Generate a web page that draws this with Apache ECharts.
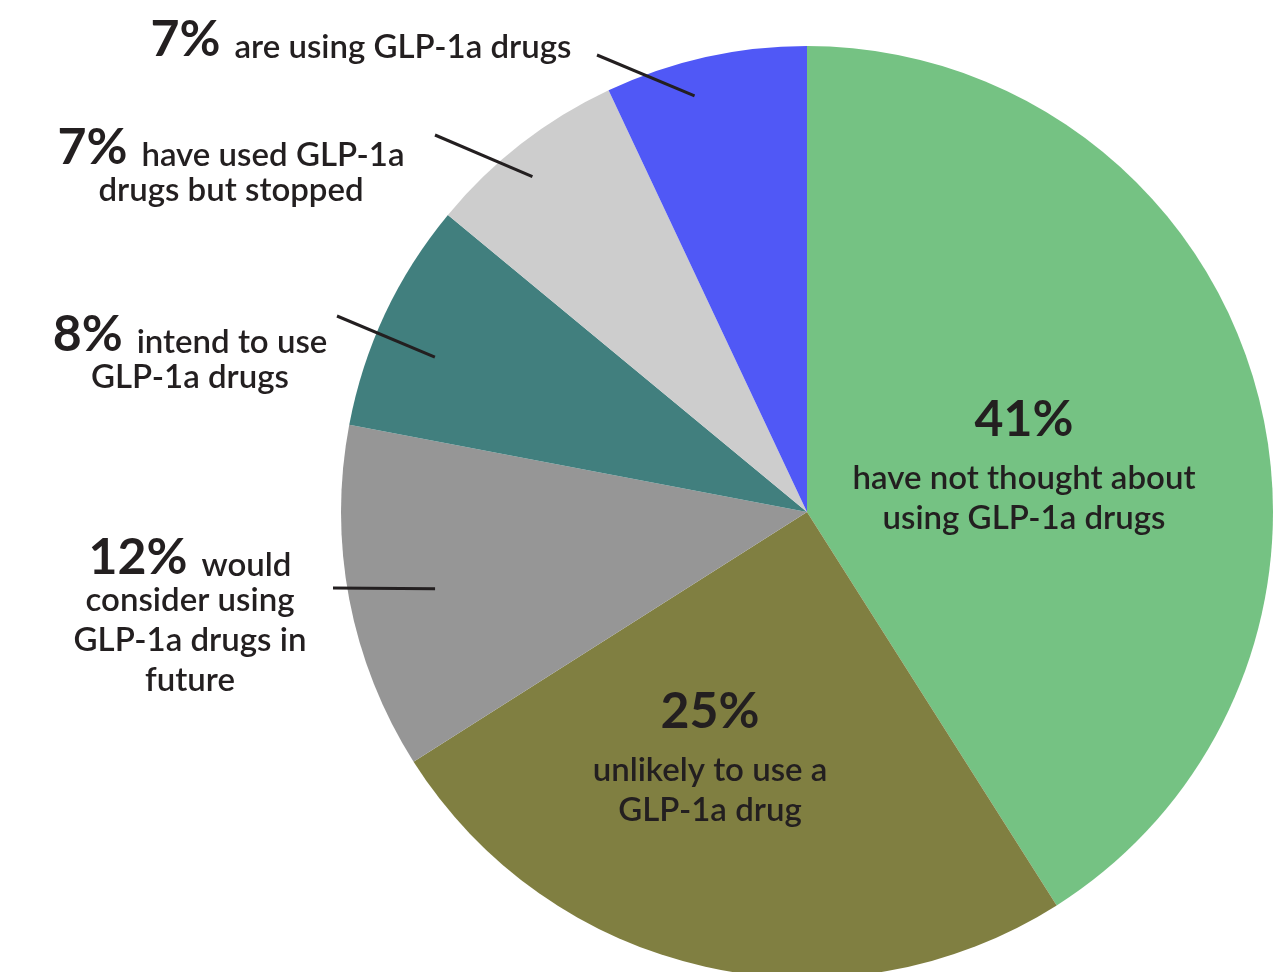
<!DOCTYPE html>
<html>
<head>
<meta charset="utf-8">
<title>GLP-1a drug use</title>
<script src="https://cdn.jsdelivr.net/npm/echarts@6/dist/echarts.min.js"></script>
<style>
  html, body { margin: 0; padding: 0; background: #ffffff; }
  #chart { width: 1288px; height: 972px; }
</style>
</head>
<body>
<div id="chart"></div>
<script>
// Survey answers, clockwise from 12 o'clock
const categories = [
  'have not thought about using GLP-1a drugs',
  'unlikely to use a GLP-1a drug',
  'would consider using GLP-1a drugs in future',
  'intend to use GLP-1a drugs',
  'have used GLP-1a drugs but stopped',
  'are using GLP-1a drugs'
];
const shares = [41, 25, 12, 8, 7, 7];
// How each answer's wording is broken over lines in its label
const labelLines = [
  ['have not thought about', 'using GLP-1a drugs'],
  ['unlikely to use a', 'GLP-1a drug'],
  ['would', 'consider using', 'GLP-1a drugs in', 'future'],
  ['intend to use', 'GLP-1a drugs'],
  ['have used GLP-1a', 'drugs but stopped'],
  ['are using GLP-1a drugs']
];
const colors = ['#75c283', '#807f41', '#969696', '#417f7e', '#cdcdcd', '#5058f6'];

// Pie geometry
const PIE_CX = 807, PIE_CY = 512, PIE_R = 466;
const INK = '#231f20';
const FONT = 'Lato';

// Label placement: inside labels sit on the slice; outside labels sit to the
// left with a leader line that runs into the slice (anchor = fraction across
// the slice's sweep and fraction of the radius).
const placement = [
  { inside: true, x: 1024, y: 460 },
  { inside: true, x: 710, y: 752 },
  { x: 190, y: 618, lineStart: [333, 588], anchor: { t: 0.48, r: 0.815 } },
  { x: 190, y: 355, lineStart: [337, 316], anchor: { t: 0.41, r: 0.865 } },
  { x: 231, y: 168, lineStart: [435, 135], anchor: { t: 0.44, r: 0.93 } },
  { x: 361, y: 40, lineStart: [597, 55], anchor: { t: 0.40, r: 0.925 } }
];

const total = shares.reduce((a, b) => a + b, 0);
function slicePoint(i, t, rFrac) {
  let before = 0;
  for (let k = 0; k < i; k++) before += shares[k];
  const ang = (before + shares[i] * t) / total * Math.PI * 2;
  return [PIE_CX + PIE_R * rFrac * Math.sin(ang), PIE_CY - PIE_R * rFrac * Math.cos(ang)];
}

function labelText(i) {
  const lines = labelLines[i];
  const pct = shares[i] + '%';
  if (placement[i].inside) {
    return ['{pi|' + pct + '}'].concat(lines.map(l => '{b|' + l + '}')).join('\n');
  }
  return ['{p|' + pct + '}{t1|' + lines[0] + '}']
    .concat(lines.slice(1).map(l => '{b|' + l + '}')).join('\n');
}

const BODY_SIZE = 33;
const BODY_WEIGHT = 600;
const rich = {
  pi: { fontFamily: FONT, fontSize: 50, fontWeight: 'bold', color: INK, lineHeight: 76 },
  p: { fontFamily: FONT, fontSize: 50, fontWeight: 'bold', color: INK, lineHeight: 44 },
  t1: { fontFamily: FONT, fontSize: BODY_SIZE, fontWeight: BODY_WEIGHT, color: INK, lineHeight: 28, padding: [14, 0, 0, 14] },
  b: { fontFamily: FONT, fontSize: BODY_SIZE, fontWeight: BODY_WEIGHT, color: INK, lineHeight: 40 }
};

const sliceData = shares.map((v, i) => ({
  name: categories[i],
  value: v,
  itemStyle: { color: colors[i] }
}));

// Transparent copy of the pie that carries the labels, drawn above the
// coloured slices so the leader lines run over them.
const labelData = shares.map((v, i) => {
  const inside = !!placement[i].inside;
  return {
    name: categories[i],
    value: v,
    label: inside
      ? { position: 'inside', formatter: labelText(i) }
      : { position: 'outside', formatter: labelText(i), width: 460, overflow: 'none' },
    labelLine: { show: !inside }
  };
});

const chart = echarts.init(document.getElementById('chart'), null, { renderer: 'canvas' });
chart.setOption({
  animation: false,
  backgroundColor: '#ffffff',
  series: [{
    type: 'pie',
    z: 2,
    center: [PIE_CX, PIE_CY],
    radius: PIE_R,
    startAngle: 90,
    clockwise: true,
    silent: true,
    itemStyle: { borderWidth: 0 },
    label: { show: false },
    labelLine: { show: false },
    data: sliceData
  }, {
    type: 'pie',
    z: 3,
    center: [PIE_CX, PIE_CY],
    radius: PIE_R,
    startAngle: 90,
    clockwise: true,
    avoidLabelOverlap: false,
    silent: true,
    itemStyle: { color: 'rgba(0,0,0,0)', borderWidth: 0 },
    label: {
      show: true,
      align: 'center',
      color: INK,
      fontFamily: FONT,
      fontSize: BODY_SIZE,
      rich: rich
    },
    labelLine: {
      show: true,
      length: 10,
      length2: 10,
      smooth: false,
      lineStyle: { color: INK, width: 3 }
    },
    labelLayout: function (params) {
      const cfg = placement[params.dataIndex];
      const out = { x: cfg.x, y: cfg.y, align: 'center', verticalAlign: 'middle' };
      if (!cfg.inside) {
        out.labelLinePoints = [
          cfg.lineStart,
          slicePoint(params.dataIndex, cfg.anchor.t, cfg.anchor.r)
        ];
      }
      return out;
    },
    data: labelData
  }]
});
</script>
</body>
</html>
